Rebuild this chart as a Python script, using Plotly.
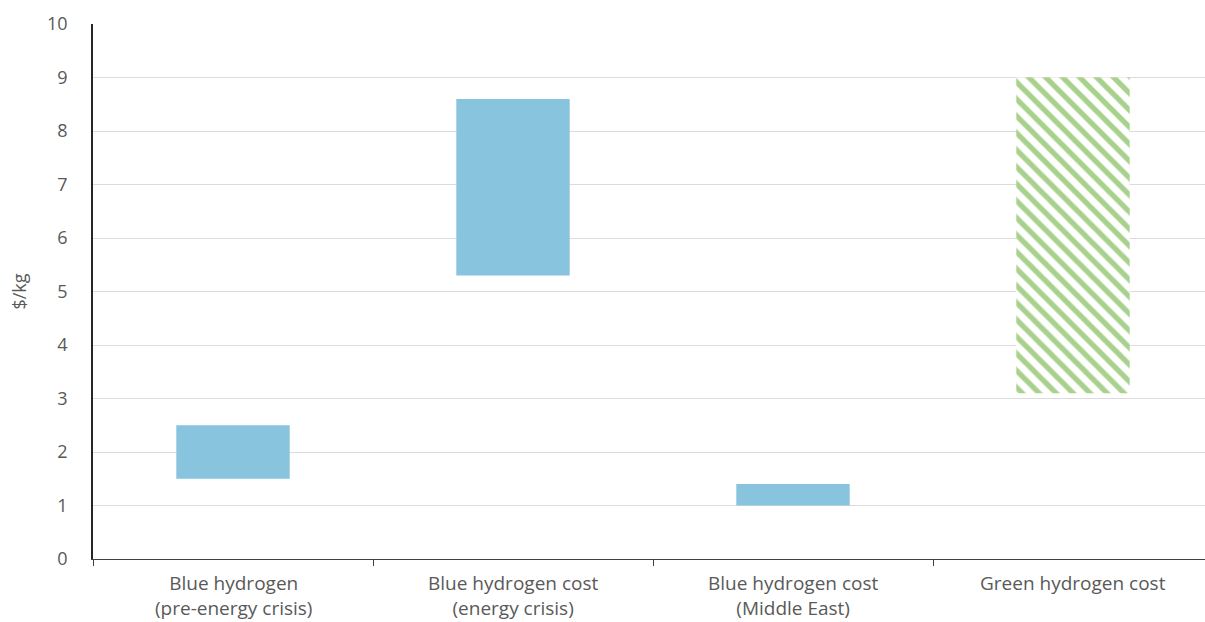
import plotly.graph_objects as go

categories = ["Blue hydrogen<br>(pre-energy crisis)",
              "Blue hydrogen cost<br>(energy crisis)",
              "Blue hydrogen cost<br>(Middle East)",
              "Green hydrogen cost"]
low = [1.5, 5.3, 1.0, 3.1]
high = [2.5, 8.6, 1.4, 9.0]
y_ticks = [0, 1, 2, 3, 4, 5, 6, 7, 8, 9, 10]

FONT = "'Open Sans', Lato, sans-serif"
GREY = "#595959"
BLUE = "#89c4df"
GREEN = "#a9d18e"

xs = list(range(len(categories)))
blue_idx = [0, 1, 2]
green_idx = [3]

fig = go.Figure()
fig.add_trace(go.Bar(
    x=[xs[i] for i in blue_idx],
    y=[high[i] - low[i] for i in blue_idx],
    base=[low[i] for i in blue_idx],
    width=0.405,
    marker=dict(color=BLUE, line=dict(width=0)),
    hoverinfo="skip",
))
fig.add_trace(go.Bar(
    x=[xs[i] for i in green_idx],
    y=[high[i] - low[i] for i in green_idx],
    base=[low[i] for i in green_idx],
    width=0.405,
    marker=dict(color="white", line=dict(width=0),
                pattern=dict(shape="\\", fgcolor=GREEN, bgcolor="white",
                             fgopacity=1, size=12, solidity=0.45,
                             fillmode="replace")),
    hoverinfo="skip",
))

# category labels below the axis
for i, c in enumerate(categories):
    fig.add_annotation(x=xs[i], y=0, xref="x", yref="paper", text=c,
                       showarrow=False, yanchor="top", yshift=-9,
                       font=dict(family=FONT, size=19, color=GREY),
                       align="center")

fig.update_layout(
    width=1205, height=622,
    margin=dict(l=93, r=0, t=24, b=63),
    paper_bgcolor="white", plot_bgcolor="white",
    showlegend=False, barmode="overlay",
    font=dict(family=FONT, size=18, color=GREY),
    xaxis=dict(range=[-0.5, 3.5 - 8 / 280], tickvals=[-0.5, 0.5, 1.5, 2.5],
               ticktext=["", "", "", ""], ticks="outside", ticklen=6,
               tickcolor="#404040", showline=True, linecolor="#404040",
               linewidth=1, showgrid=False, zeroline=False, fixedrange=True),
    yaxis=dict(range=[0, 10], tickvals=y_ticks, showgrid=True,
               gridcolor="#dcdcdc", gridwidth=1, showline=True,
               linecolor="#262626", linewidth=1.5, zeroline=False,
               ticks="", ticklabelstandoff=20,
               tickfont=dict(family=FONT, size=18, color=GREY),
               title=dict(text="$/kg", standoff=16,
                          font=dict(family=FONT, size=18, color=GREY))),
)

fig.write_html("out.html")
